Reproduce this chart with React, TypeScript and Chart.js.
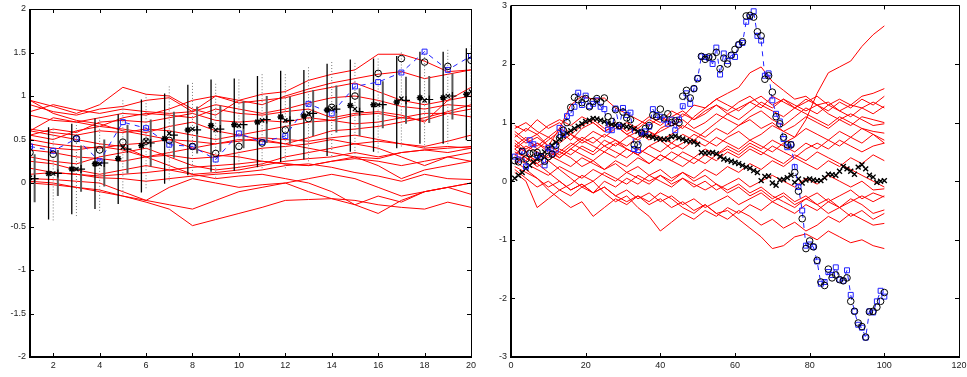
import React, { useEffect, useRef } from "react";
import { Chart, registerables } from "chart.js";

Chart.register(...registerables);

// ---------------- LEFT PANEL DATA ----------------
const leftX = [1, 2, 3, 4, 5, 6, 7, 8, 9, 10, 11, 12, 13, 14, 15, 16, 17, 18, 19, 20];
const leftXTicks = [2, 4, 6, 8, 10, 12, 14, 16, 18, 20];
const leftSquares = [0.42, 0.37, 0.51, 0.25, 0.70, 0.63, 0.44, 0.42, 0.27, 0.57, 0.47, 0.54, 0.91, 0.80, 1.11, 1.16, 1.27, 1.51, 1.30, 1.46];
const leftCircles = [0.35, 0.33, 0.51, 0.38, 0.47, 0.48, 0.49, 0.42, 0.34, 0.42, 0.46, 0.61, 0.74, 0.87, 1.00, 1.26, 1.43, 1.39, 1.34, 1.41];
const leftStars = [0.06, 0.11, 0.16, 0.22, 0.28, 0.43, 0.51, 0.61, 0.66, 0.67, 0.70, 0.76, 0.77, 0.84, 0.89, 0.90, 0.93, 0.98, 0.98, 1.02];
const leftCrosses = [0.06, 0.11, 0.16, 0.22, 0.41, 0.48, 0.57, 0.62, 0.61, 0.66, 0.72, 0.72, 0.80, 0.86, 0.85, 0.90, 0.97, 0.95, 1.00, 1.05];
const leftPluses = [0.05, 0.11, 0.16, 0.23, 0.39, 0.46, 0.55, 0.61, 0.62, 0.67, 0.73, 0.72, 0.80, 0.85, 0.82, 0.90, 0.95, 0.96, 1.00, 1.03];
const blackHi = [0.59, 0.64, 0.68, 0.74, 0.79, 0.96, 1.03, 1.13, 1.19, 1.20, 1.23, 1.29, 1.30, 1.37, 1.42, 1.43, 1.46, 1.51, 1.51, 1.55];
const blackLo = [-0.47, -0.42, -0.36, -0.30, -0.24, -0.11, -0.01, 0.09, 0.13, 0.14, 0.18, 0.24, 0.27, 0.31, 0.36, 0.36, 0.40, 0.45, 0.45, 0.49];
const dotHi = [0.60, 0.64, 0.70, 0.76, 0.96, 1.02, 1.12, 1.17, 1.16, 1.21, 1.27, 1.27, 1.35, 1.41, 1.40, 1.45, 1.52, 1.50, 1.55, 1.60];
const dotLo = [-0.49, -0.43, -0.38, -0.32, -0.13, -0.06, 0.03, 0.07, 0.06, 0.11, 0.17, 0.17, 0.25, 0.31, 0.30, 0.35, 0.42, 0.40, 0.45, 0.50];
const grayHi = [0.33, 0.38, 0.43, 0.50, 0.67, 0.73, 0.82, 0.88, 0.89, 0.94, 1.00, 0.99, 1.07, 1.12, 1.09, 1.17, 1.22, 1.23, 1.26, 1.30];
const grayLo = [-0.22, -0.15, -0.10, -0.04, 0.11, 0.19, 0.29, 0.34, 0.36, 0.40, 0.46, 0.45, 0.54, 0.58, 0.54, 0.63, 0.68, 0.69, 0.73, 0.77];

const leftRedLines = [
  [0.95, 0.88, 0.80, 0.90, 1.10, 1.02, 1.00, 0.85, 0.78, 0.95, 1.02, 1.05, 1.18, 1.25, 1.30, 1.48, 1.48, 1.40, 1.28, 1.30],
  [0.90, 0.82, 0.78, 0.85, 0.88, 0.95, 0.98, 0.82, 1.00, 0.92, 0.95, 0.98, 1.05, 1.10, 1.15, 1.05, 0.95, 0.90, 0.95, 1.00],
  [0.82, 0.90, 0.84, 0.80, 0.85, 0.82, 0.80, 0.82, 0.90, 0.85, 0.80, 0.85, 0.92, 0.98, 1.00, 0.95, 0.88, 0.85, 0.90, 0.88],
  [0.60, 0.75, 0.70, 0.65, 0.75, 0.80, 0.78, 0.75, 0.85, 0.80, 0.78, 0.82, 0.85, 0.75, 0.80, 0.82, 0.78, 0.70, 0.95, 1.10],
  [0.55, 0.62, 0.58, 0.70, 0.72, 0.70, 0.75, 0.80, 0.72, 0.70, 0.72, 0.70, 0.75, 0.72, 0.78, 0.80, 0.75, 0.72, 0.80, 0.85],
  [0.62, 0.58, 0.55, 0.60, 0.58, 0.62, 0.60, 0.55, 0.50, 0.55, 0.60, 0.65, 0.70, 0.72, 0.68, 0.70, 0.75, 0.80, 0.80, 0.76],
  [0.50, 0.45, 0.42, 0.40, 0.44, 0.46, 0.50, 0.48, 0.45, 0.48, 0.52, 0.50, 0.48, 0.52, 0.55, 0.50, 0.45, 0.42, 0.48, 0.55],
  [0.45, 0.40, 0.38, 0.42, 0.38, 0.30, 0.35, 0.40, 0.45, 0.50, 0.48, 0.45, 0.52, 0.60, 0.62, 0.65, 0.70, 0.75, 0.82, 0.90],
  [0.38, 0.35, 0.30, 0.28, 0.25, 0.30, 0.32, 0.28, 0.30, 0.35, 0.40, 0.42, 0.45, 0.50, 0.45, 0.48, 0.45, 0.40, 0.42, 0.40],
  [0.30, 0.25, 0.22, 0.30, 0.35, 0.40, 0.30, 0.20, 0.15, 0.18, 0.22, 0.30, 0.35, 0.40, 0.45, 0.40, 0.30, 0.20, 0.30, 0.35],
  [0.25, 0.22, 0.15, 0.10, 0.15, 0.20, 0.15, 0.10, 0.12, 0.15, 0.20, 0.25, 0.28, 0.30, 0.35, 0.30, 0.35, 0.38, 0.40, 0.42],
  [0.17, 0.12, 0.10, 0.08, 0.10, 0.12, 0.15, 0.18, 0.20, 0.22, 0.25, 0.22, 0.20, 0.25, 0.28, 0.25, 0.20, 0.25, 0.30, 0.25],
  [0.10, 0.12, 0.10, 0.06, 0.05, 0.02, 0.05, 0.08, 0.10, 0.12, 0.15, 0.20, 0.22, 0.18, 0.12, 0.08, 0.02, 0.10, 0.05, 0.04],
  [0.05, 0.04, 0.02, 0.00, -0.10, -0.20, -0.05, 0.05, 0.00, -0.05, -0.02, 0.00, 0.05, 0.10, 0.05, -0.05, -0.15, -0.10, -0.05, 0.00],
  [0.00, -0.02, -0.05, -0.10, -0.15, -0.20, -0.25, -0.30, -0.20, -0.10, -0.05, 0.00, -0.10, -0.18, -0.25, -0.35, -0.20, -0.10, -0.05, -0.13],
  [0.02, 0.00, -0.05, -0.08, -0.15, -0.22, -0.30, -0.49, -0.42, -0.35, -0.28, -0.20, -0.19, -0.18, -0.20, -0.25, -0.28, -0.30, -0.22, -0.28],
  [0.60, 0.55, 0.50, 0.45, 0.42, 0.30, 0.20, 0.10, 0.05, 0.08, 0.10, 0.05, 0.00, -0.10, -0.25, -0.15, -0.22, -0.10, -0.05, 0.00],
  [0.95, 0.80, 0.72, 0.68, 0.60, 0.55, 0.50, 0.40, 0.32, 0.30, 0.25, 0.22, 0.20, 0.25, 0.30, 0.28, 0.35, 0.38, 0.35, 0.40],
  [0.55, 0.50, 0.60, 0.65, 0.62, 0.58, 0.65, 0.70, 0.60, 0.55, 0.50, 0.45, 0.40, 0.35, 0.30, 0.20, 0.05, 0.15, 0.20, 0.25],
  [0.78, 0.72, 0.70, 0.75, 0.80, 0.78, 0.85, 0.95, 1.00, 0.95, 0.90, 1.00, 1.08, 1.15, 1.20, 1.25, 1.28, 1.20, 1.25, 1.30],
];

// ---------------- RIGHT PANEL DATA ----------------
const rightCircles = [
  0.35, 0.33, 0.51, 0.38, 0.47, 0.48, 0.49, 0.42, 0.34, 0.42,
  0.46, 0.61, 0.74, 0.87, 1.00, 1.26, 1.43, 1.39, 1.34, 1.41,
  1.27, 1.36, 1.41, 1.35, 1.42, 1.10, 1.02, 1.22, 0.95, 1.18,
  1.08, 1.05, 0.62, 0.62, 0.82, 0.90, 0.95, 1.13, 1.10, 1.23,
  1.08, 1.15, 1.00, 1.03, 1.00, 1.45, 1.55, 1.42, 1.58, 1.75,
  2.13, 2.08, 2.12, 2.12, 2.20, 1.92, 2.10, 2.00, 2.15, 2.25,
  2.33, 2.38, 2.82, 2.83, 2.80, 2.55, 2.48, 1.74, 1.80, 1.52,
  1.10, 0.98, 0.75, 0.62, 0.62, 0.15, -0.17, -0.64, -1.15, -1.02,
  -1.12, -1.35, -1.72, -1.78, -1.50, -1.65, -1.60, -1.68, -1.70, -1.65,
  -2.05, -2.22, -2.42, -2.48, -2.66, -2.23, -2.22, -2.15, -2.05, -1.90,
];
const rightSquares = [
  0.42, 0.37, 0.51, 0.25, 0.70, 0.63, 0.44, 0.42, 0.27, 0.57,
  0.47, 0.54, 0.91, 0.80, 1.11, 1.16, 1.27, 1.51, 1.30, 1.46,
  1.28, 1.32, 1.38, 1.27, 1.23, 0.88, 0.87, 1.24, 0.93, 1.25,
  1.13, 1.17, 0.55, 0.53, 0.83, 0.85, 0.93, 1.23, 1.13, 1.10,
  1.05, 0.98, 1.05, 0.87, 1.05, 1.28, 1.50, 1.32, 1.58, 1.76,
  2.13, 2.12, 2.10, 2.00, 2.28, 1.82, 2.18, 2.05, 2.15, 2.12,
  2.33, 2.36, 2.72, 2.80, 2.90, 2.48, 2.40, 1.80, 1.84, 1.38,
  1.15, 1.02, 0.72, 0.58, 0.63, 0.24, -0.10, -0.50, -1.10, -1.08,
  -1.12, -1.37, -1.75, -1.72, -1.55, -1.60, -1.47, -1.68, -1.70, -1.52,
  -1.94, -2.22, -2.45, -2.50, -2.67, -2.22, -2.24, -2.05, -1.87, -1.97,
];
const rightCrosses = [
  0.05, 0.10, 0.15, 0.22, 0.27, 0.33, 0.38, 0.44, 0.50, 0.56,
  0.61, 0.66, 0.72, 0.77, 0.82, 0.86, 0.90, 0.94, 0.98, 1.02,
  1.04, 1.07, 1.06, 1.04, 1.02, 0.99, 0.97, 0.96, 0.95, 0.95,
  0.93, 0.92, 0.89, 0.85, 0.81, 0.79, 0.77, 0.75, 0.73, 0.72,
  0.71, 0.72, 0.76, 0.77, 0.74, 0.72, 0.69, 0.68, 0.67, 0.63,
  0.49, 0.48, 0.48, 0.49, 0.47, 0.42, 0.38, 0.36, 0.34, 0.32,
  0.30, 0.27, 0.24, 0.22, 0.18, 0.15, 0.01, 0.08, 0.09, -0.03,
  -0.07, 0.02, 0.03, 0.06, 0.10, -0.02, 0.04, -0.03, 0.02, 0.04,
  0.02, 0.01, 0.01, 0.06, 0.12, 0.11, 0.10, 0.17, 0.25, 0.21,
  0.17, 0.12, 0.24, 0.28, 0.21, 0.10, 0.07, -0.02, 0.00, 0.01,
];
const rightRedX = [1, 4, 7, 10, 13, 16, 19, 22, 25, 28, 31, 34, 37, 40, 43, 46, 49, 52, 55, 58, 61, 64, 67, 70, 73, 76, 79, 82, 85, 88, 91, 94, 97, 100];
const rightRedLines = [
  [0.55, 0.70, 0.60, 0.75, 0.65, 0.80, 0.70, 0.60, 0.50, 0.65, 0.55, 0.45, 0.60, 0.50, 0.65, 0.55, 0.70, 0.60, 0.75, 0.65, 0.55, 0.70, 0.60, 0.50, 0.65, 0.75, 1.05, 1.50, 1.85, 1.95, 2.05, 2.30, 2.50, 2.65],
  [0.45, 0.35, 0.50, 0.40, 0.55, 0.45, 0.60, 0.50, 0.70, 0.60, 0.75, 0.85, 0.70, 0.90, 1.00, 0.90, 1.10, 1.25, 1.40, 1.50, 1.60, 1.85, 1.95, 1.70, 1.55, 1.40, 1.45, 1.30, 1.35, 1.20, 1.30, 1.25, 1.35, 1.25],
  [0.85, 0.70, 0.80, 0.60, 0.90, 1.30, 1.45, 1.40, 1.42, 1.25, 1.15, 1.05, 0.95, 1.10, 1.00, 1.15, 1.05, 1.20, 1.30, 1.15, 1.25, 1.35, 1.45, 1.30, 1.40, 1.25, 1.35, 1.45, 1.30, 1.40, 1.30, 1.45, 1.50, 1.58],
  [0.95, 0.85, 1.05, 0.90, 1.00, 0.80, 0.95, 1.05, 0.90, 1.00, 0.85, 0.95, 1.10, 1.00, 1.20, 1.10, 1.30, 1.25, 1.40, 1.30, 1.20, 1.35, 1.25, 1.45, 1.35, 1.25, 1.40, 1.30, 1.20, 1.35, 1.25, 1.40, 1.30, 1.45],
  [0.60, 0.75, 0.55, 0.70, 0.85, 0.70, 0.90, 1.00, 0.85, 0.95, 0.80, 0.90, 0.75, 0.85, 0.95, 1.05, 0.90, 1.00, 1.15, 1.05, 0.95, 1.10, 1.20, 1.05, 0.95, 1.10, 1.25, 1.15, 1.30, 1.20, 1.10, 1.25, 1.15, 1.28],
  [0.30, 0.45, 0.35, 0.55, 0.45, 0.60, 0.75, 0.65, 0.80, 0.70, 0.60, 0.75, 0.85, 0.70, 0.80, 0.95, 0.85, 0.75, 0.90, 0.80, 0.95, 1.05, 0.90, 1.00, 0.85, 0.95, 1.10, 1.00, 0.90, 1.05, 0.95, 1.10, 1.05, 1.00],
  [0.70, 0.55, 0.65, 0.50, 0.40, 0.55, 0.45, 0.35, 0.50, 0.40, 0.55, 0.45, 0.60, 0.70, 0.55, 0.65, 0.80, 0.70, 0.60, 0.75, 0.85, 0.70, 0.80, 0.95, 0.85, 0.75, 0.90, 0.80, 0.70, 0.85, 0.75, 0.90, 0.85, 0.82],
  [0.50, 0.40, 0.30, 0.45, 0.35, 0.25, 0.40, 0.30, 0.20, 0.35, 0.25, 0.40, 0.30, 0.45, 0.35, 0.50, 0.40, 0.55, 0.45, 0.60, 0.50, 0.65, 0.55, 0.70, 0.60, 0.50, 0.65, 0.55, 0.70, 0.60, 0.75, 0.65, 0.80, 0.70],
  [0.80, 0.65, 0.75, 0.60, 0.50, 0.65, 0.55, 0.45, 0.60, 0.50, 0.40, 0.55, 0.45, 0.35, 0.50, 0.40, 0.30, 0.45, 0.35, 0.50, 0.40, 0.55, 0.45, 0.60, 0.50, 0.40, 0.55, 0.65, 0.55, 0.70, 0.60, 0.50, 0.60, 0.65],
  [0.40, 0.30, 0.20, 0.10, 0.25, 0.15, 0.05, 0.20, 0.10, 0.00, 0.15, 0.05, -0.05, 0.10, 0.00, 0.15, 0.05, 0.20, 0.10, 0.25, 0.15, 0.30, 0.20, 0.35, 0.25, 0.40, 0.30, 0.20, 0.35, 0.25, 0.40, 0.30, 0.45, 0.35],
  [0.20, 0.05, -0.10, 0.00, -0.15, -0.05, 0.10, 0.00, 0.15, 0.05, -0.05, 0.10, 0.00, 0.10, -0.05, 0.05, -0.10, 0.00, -0.15, -0.05, 0.05, -0.10, 0.00, 0.10, 0.00, -0.10, 0.05, -0.05, 0.10, 0.00, -0.10, 0.00, -0.15, -0.13],
  [0.65, 0.50, 0.30, 0.15, 0.00, -0.15, -0.05, -0.20, -0.10, -0.25, -0.15, -0.30, -0.20, -0.35, -0.25, -0.40, -0.30, -0.45, -0.35, -0.25, -0.40, -0.30, -0.20, -0.35, -0.25, -0.40, -0.30, -0.20, -0.35, -0.25, -0.15, -0.30, -0.20, -0.27],
  [0.55, 0.40, 0.25, 0.35, 0.20, 0.05, -0.10, 0.00, -0.20, -0.35, -0.25, -0.45, -0.60, -0.85, -0.70, -0.55, -0.65, -0.50, -0.60, -0.45, -0.55, -0.40, -0.50, -0.35, -0.45, -0.55, -0.40, -0.50, -0.35, -0.45, -0.30, -0.40, -0.55, -0.49],
  [0.25, 0.15, 0.05, -0.10, 0.00, -0.15, -0.05, -0.20, -0.10, -0.25, -0.35, -0.25, -0.40, -0.30, -0.45, -0.35, -0.50, -0.40, -0.55, -0.50, -0.65, -0.80, -0.95, -1.15, -1.10, -0.95, -0.90, -1.00, -0.85, -0.95, -1.05, -1.00, -1.10, -1.15],
  [0.35, 0.20, 0.05, -0.15, -0.30, -0.45, -0.35, -0.60, -0.45, -0.30, -0.40, -0.25, -0.35, -0.20, -0.30, -0.45, -0.55, -0.40, -0.55, -0.65, -0.50, -0.60, -0.75, -0.65, -0.80, -0.70, -0.85, -0.75, -0.60, -0.70, -0.55, -0.65, -0.75, -0.72],
  [0.15, 0.00, -0.45, -0.30, -0.15, -0.25, -0.10, -0.20, 0.00, -0.10, 0.05, -0.05, 0.10, 0.00, -0.10, 0.05, -0.05, -0.15, -0.05, -0.20, -0.10, -0.25, -0.15, -0.30, -0.20, -0.35, -0.25, -0.40, -0.30, -0.45, -0.35, -0.25, -0.35, -0.25],
  [0.90, 1.00, 0.85, 0.75, 0.90, 0.80, 0.65, 0.75, 0.60, 0.70, 0.55, 0.45, 0.30, 0.45, 0.35, 0.25, 0.40, 0.30, 0.45, 0.55, 0.45, 0.60, 0.50, 0.40, 0.30, 0.45, 0.35, 0.50, 0.40, 0.30, 0.20, 0.10, 0.00, -0.10],
  [0.75, 0.90, 0.80, 0.95, 1.05, 0.95, 1.10, 1.00, 0.85, 0.95, 0.80, 0.70, 0.85, 0.75, 0.65, 0.80, 0.70, 0.85, 1.00, 1.15, 1.05, 1.20, 1.35, 1.25, 1.40, 1.30, 1.20, 1.30, 1.15, 1.05, 1.15, 1.05, 0.95, 0.98],
  [0.45, 0.60, 0.50, 0.35, 0.50, 0.40, 0.25, 0.35, 0.20, 0.30, 0.15, 0.25, 0.10, 0.20, 0.05, 0.15, 0.00, 0.10, -0.05, -0.15, -0.05, -0.20, -0.10, -0.25, -0.35, -0.45, -0.30, -0.40, -0.55, -0.45, -0.60, -0.50, -0.65, -0.55],
  [0.60, 0.50, 0.65, 0.55, 0.40, 0.55, 0.70, 0.85, 0.75, 0.90, 1.00, 0.90, 1.05, 0.95, 1.10, 1.20, 1.05, 1.15, 1.30, 1.20, 1.35, 1.45, 1.30, 1.20, 1.10, 1.25, 1.15, 1.05, 0.95, 1.10, 1.00, 0.90, 0.80, 0.65],
];

// ---------------- helpers ----------------
const FONT = '"Liberation Sans", Arial, Helvetica, sans-serif';
Chart.defaults.font.family = FONT;

const pts = (xs: number[], ys: number[], dx = 0) => ys.map((y, i) => ({ x: xs[i] + dx, y }));

const bars = (xs: number[], lo: number[], hi: number[], dx: number) => {
  const out: any[] = [];
  xs.forEach((x, i) => {
    out.push({ x: x + dx, y: lo[i] });
    out.push({ x: x + dx, y: hi[i] });
    out.push({ x: x + dx, y: null });
  });
  return out;
};

const boxPlugin = {
  id: "matlabBox",
  afterDatasetsDraw(chart: any) {
    const { ctx, chartArea: a, scales } = chart;
    const tl = 4;
    ctx.save();
    ctx.strokeStyle = "#000";
    ctx.lineWidth = 1;
    ctx.beginPath();
    scales.x.ticks.forEach((t: any) => {
      const px = Math.round(scales.x.getPixelForValue(t.value)) + 0.5;
      ctx.moveTo(px, a.bottom);
      ctx.lineTo(px, a.bottom - tl);
      ctx.moveTo(px, a.top);
      ctx.lineTo(px, a.top + tl);
    });
    scales.y.ticks.forEach((t: any) => {
      const py = Math.round(scales.y.getPixelForValue(t.value)) + 0.5;
      ctx.moveTo(a.left, py);
      ctx.lineTo(a.left + tl, py);
      ctx.moveTo(a.right, py);
      ctx.lineTo(a.right - tl, py);
    });
    ctx.stroke();
    ctx.beginPath();
    ctx.moveTo(a.left, Math.round(a.top) + 0.5);
    ctx.lineTo(a.right, Math.round(a.top) + 0.5);
    ctx.moveTo(Math.round(a.right) + 0.5, a.top);
    ctx.lineTo(Math.round(a.right) + 0.5, a.bottom);
    ctx.stroke();
    ctx.lineWidth = 2;
    ctx.beginPath();
    ctx.moveTo(Math.round(a.left), a.top);
    ctx.lineTo(Math.round(a.left), Math.round(a.bottom));
    ctx.lineTo(a.right + 1, Math.round(a.bottom));
    ctx.stroke();
    ctx.restore();
  },
};

function makeAxis(axis: "x" | "y", min: number, max: number, step: number, fit: number, pad: number, fixedTicks?: number[]) {
  const s: any = {
    type: "linear",
    min,
    max,
    grid: { display: false, drawTicks: false },
    border: { display: false },
    ticks: {
      stepSize: step,
      padding: pad,
      color: "#222",
      font: { size: 9, family: FONT },
      maxRotation: 0,
      autoSkip: false,
      callback: (v: number) => String(Math.round(v * 100) / 100),
    },
    afterFit: (sc: any) => {
      if (axis === "y") sc.width = fit;
      else sc.height = fit;
      sc.paddingLeft = 0;
      sc.paddingRight = 0;
      sc.paddingTop = 0;
      sc.paddingBottom = 0;
    },
  };
  if (fixedTicks) {
    s.afterBuildTicks = (sc: any) => {
      sc.ticks = fixedTicks.map((v) => ({ value: v }));
    };
  }
  return s;
}

function redDatasets(lines: number[][], xs: number[]) {
  return lines.map((l) => ({
    data: pts(xs, l),
    borderColor: "#ff0000",
    borderWidth: 1,
    pointRadius: 0,
    tension: 0,
    fill: false,
    order: 3,
  }));
}

function leftConfig(): any {
  return {
    type: "line",
    data: {
      datasets: [
        { data: pts(leftX, leftCircles), showLine: false, pointStyle: "circle", pointRadius: 3.3, borderColor: "#000", backgroundColor: "rgba(0,0,0,0)", pointBorderWidth: 1, order: 1 },
        { data: pts(leftX, leftStars, -0.2), showLine: false, pointStyle: "star", pointRadius: 3.2, borderColor: "#000", pointBorderWidth: 1.5, order: 1 },
        { data: pts(leftX, leftCrosses), showLine: false, pointStyle: "crossRot", pointRadius: 3, borderColor: "#000", pointBorderWidth: 1.2, order: 1 },
        { data: pts(leftX, leftPluses, 0.2), showLine: false, pointStyle: "cross", pointRadius: 4, borderColor: "#000", pointBorderWidth: 1.2, order: 1 },
        { data: pts(leftX, leftSquares), showLine: true, borderDash: [5, 5], borderColor: "#2020ff", borderWidth: 1, pointStyle: "rect", pointRadius: 3.5, pointBorderColor: "#2020ff", pointBackgroundColor: "rgba(0,0,0,0)", pointBorderWidth: 1, tension: 0, order: 1 },
        { data: bars(leftX, blackLo, blackHi, -0.2), borderColor: "#000", borderWidth: 1.3, pointRadius: 0, spanGaps: false, order: 2 },
        { data: bars(leftX, dotLo, dotHi, 0), borderColor: "#777", borderWidth: 1, borderDash: [1, 2], pointRadius: 0, spanGaps: false, order: 2 },
        { data: bars(leftX, grayLo, grayHi, 0.2), borderColor: "#5a5a5a", borderWidth: 2, pointRadius: 0, spanGaps: false, order: 2 },
        ...redDatasets(leftRedLines, leftX),
      ],
    },
    options: {
      responsive: false,
      animation: false,
      devicePixelRatio: 1,
      layout: { padding: { left: 0, top: 9, right: 9, bottom: 0 } },
      plugins: { legend: { display: false }, tooltip: { enabled: false } },
      events: [],
      scales: {
        x: makeAxis("x", 1, 20, 2, 20, 3, leftXTicks),
        y: makeAxis("y", -2, 2, 0.5, 30, 4),
      },
    },
    plugins: [boxPlugin],
  };
}

function rightConfig(): any {
  const xs = rightCircles.map((_, i) => i + 1);
  return {
    type: "line",
    data: {
      datasets: [
        { data: pts(xs, rightCircles), showLine: false, pointStyle: "circle", pointRadius: 3.3, borderColor: "#000", backgroundColor: "rgba(0,0,0,0)", pointBorderWidth: 1, order: 1 },
        { data: pts(xs, rightSquares), showLine: true, borderDash: [5, 5], borderColor: "#2020ff", borderWidth: 1, pointStyle: "rect", pointRadius: 3.5, pointBorderColor: "#2020ff", pointBackgroundColor: "rgba(0,0,0,0)", pointBorderWidth: 1, tension: 0, order: 1 },
        { data: pts(xs, rightCrosses), showLine: false, pointStyle: "crossRot", pointRadius: 3.5, borderColor: "#000", pointBorderWidth: 1.4, order: 1 },
        ...redDatasets(rightRedLines, rightRedX),
      ],
    },
    options: {
      responsive: false,
      animation: false,
      devicePixelRatio: 1,
      layout: { padding: { left: 0, top: 4, right: 8, bottom: 0 } },
      plugins: { legend: { display: false }, tooltip: { enabled: false } },
      events: [],
      scales: {
        x: makeAxis("x", 0, 120, 20, 20, 3),
        y: makeAxis("y", -3, 3, 1, 31, 4),
      },
    },
    plugins: [boxPlugin],
  };
}

export default function App() {
  const ref1 = useRef<HTMLCanvasElement>(null);
  const ref2 = useRef<HTMLCanvasElement>(null);
  useEffect(() => {
    document.body.style.margin = "0";
    const c1 = new Chart(ref1.current as HTMLCanvasElement, leftConfig());
    const c2 = new Chart(ref2.current as HTMLCanvasElement, rightConfig());
    return () => {
      c1.destroy();
      c2.destroy();
    };
  }, []);
  return (
    <div style={{ position: "absolute", left: 0, top: 0, width: 967, height: 377, background: "#fff" }}>
      <canvas ref={ref1} width={480} height={377} style={{ position: "absolute", left: 0, top: 0 }} />
      <canvas ref={ref2} width={487} height={377} style={{ position: "absolute", left: 480, top: 0 }} />
    </div>
  );
}
